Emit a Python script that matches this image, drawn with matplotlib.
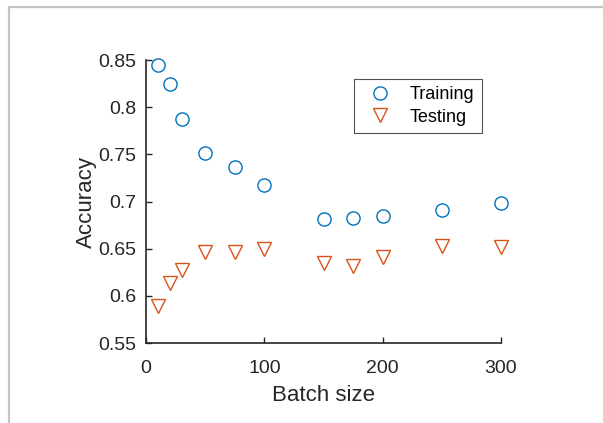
import numpy as np
import matplotlib
matplotlib.use("Agg")
import matplotlib.pyplot as plt
from matplotlib.patches import Rectangle

plt.rcParams['font.family'] = ['Liberation Sans', 'DejaVu Sans']

# data
batch = [10, 20, 30, 50, 75, 100, 150, 175, 200, 250, 300]
train_acc = [0.845, 0.825, 0.787, 0.751, 0.737, 0.718, 0.681, 0.682, 0.685, 0.691, 0.698]
test_acc = [0.589, 0.614, 0.627, 0.646, 0.646, 0.650, 0.635, 0.632, 0.641, 0.653, 0.652]

yticks = [0.55, 0.6, 0.65, 0.7, 0.75, 0.8, 0.85]
ytick_labels = ['0.55', '0.6', '0.65', '0.7', '0.75', '0.8', '0.85']
xticks = [0, 100, 200, 300]

blue = '#0072BD'
orange = '#D95319'
txt = '#262626'

fig = plt.figure(figsize=(6.03, 4.23), dpi=100)

# light grey frame round the figure (top and left edges visible)
fig.patches.append(Rectangle((8.5 / 603, -0.1), 1.2, (423 - 7) / 423 + 0.1,
                             transform=fig.transFigure, fill=False,
                             edgecolor='#c4c4c4', linewidth=1.6))

ax = fig.add_axes([146 / 603, 80 / 423, 355 / 603, 283 / 423])

ax.plot(batch, train_acc, linestyle='none', marker='o', markersize=9.5,
        markerfacecolor='none', markeredgecolor=blue, markeredgewidth=1.0,
        label='Training', clip_on=False)
ax.plot(batch, test_acc, linestyle='none', marker='v', markersize=10,
        markerfacecolor='none', markeredgecolor=orange, markeredgewidth=1.0,
        label='Testing', clip_on=False)

ax.set_xlim(0, 300)
ax.set_ylim(0.55, 0.85)
ax.set_xticks(xticks)
ax.set_yticks(yticks)
ax.set_yticklabels(ytick_labels)

for s in ['top', 'right']:
    ax.spines[s].set_visible(False)
for s in ['left', 'bottom']:
    ax.spines[s].set_color(txt)
    ax.spines[s].set_linewidth(1.2)

ax.tick_params(direction='in', length=4, width=1.0, colors=txt,
               labelsize=14, pad=7)
ax.tick_params(axis='x', pad=12)

ax.set_xlabel('Batch size', fontsize=16, color=txt, labelpad=6)
ax.set_ylabel('Accuracy', fontsize=16, color=txt, labelpad=1)

leg = ax.legend(loc='upper left', bbox_to_anchor=(208 / 355, 1 - 19 / 283),
                fontsize=13, frameon=True, fancybox=False, borderpad=0.4,
                handletextpad=0.6, labelspacing=0.3, handlelength=2.1,
                borderaxespad=0)
leg.get_frame().set_edgecolor(txt)
leg.get_frame().set_linewidth(0.8)

fig.savefig('out.png', dpi=100)
